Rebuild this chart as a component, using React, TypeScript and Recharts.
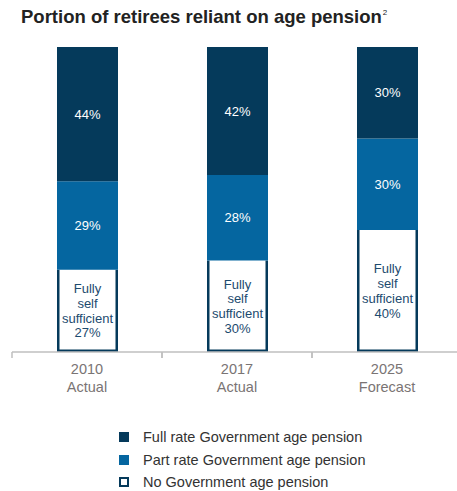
import React from 'react';
import { BarChart, Bar, XAxis, YAxis, LabelList } from 'recharts';

const categories = ['2010', '2017', '2025'];
const periodLabels = ['Actual', 'Actual', 'Forecast'];
const fullRate = [44, 42, 30];
const partRate = [29, 28, 30];
const selfSufficient = [27, 30, 40];
const seriesNames = [
  'Full rate Government age pension',
  'Part rate Government age pension',
  'No Government age pension',
];

const NAVY = '#053a5b';
const BLUE = '#0566a0';
const FONT = 'Liberation Sans, Arial, sans-serif';

const data = categories.map((c, i) => ({
  year: c,
  period: periodLabels[i],
  full: fullRate[i],
  part: partRate[i],
  self: selfSufficient[i],
}));

const BAND = 150;

const Tick = (props: any) => {
  const { x, y, payload, index } = props;
  const d = data[index] || data.find((e) => e.year === payload.value);
  const y0 = y - 8;
  return (
    <g>
      <line x1={x - BAND / 2} x2={x - BAND / 2} y1={y0} y2={y0 + 6} stroke="#bfbfbf" strokeWidth={1.5} />
      <line x1={x + BAND / 2} x2={x + BAND / 2} y1={y0} y2={y0 + 6} stroke="#bfbfbf" strokeWidth={1.5} />
      <text x={x} y={y0 + 17} textAnchor="middle" dominantBaseline="central" fill="#7a7474" fontSize={14.5} fontFamily={FONT}>
        {payload.value}
      </text>
      <text x={x} y={y0 + 35} textAnchor="middle" dominantBaseline="central" fill="#7a7474" fontSize={14.5} fontFamily={FONT}>
        {d ? d.period : ''}
      </text>
    </g>
  );
};

const OpenTopBar = (props: any) => {
  const { x, y, width, height } = props;
  const sw = 2.5;
  const l = x + sw / 2;
  const r = x + width - sw / 2;
  const b = y + height - sw / 2;
  return (
    <g>
      <rect x={x} y={y} width={width} height={height} fill="#ffffff" />
      <path d={`M${l},${y} L${l},${b} L${r},${b} L${r},${y}`} fill="none" stroke={NAVY} strokeWidth={sw} />
    </g>
  );
};

const pctLabel = (props: any) => {
  const { x, y, width, height, value } = props;
  return (
    <text x={x + width / 2} y={y + height / 2} textAnchor="middle" dominantBaseline="central" fill="#ffffff" fontSize={13} fontFamily={FONT}>
      {`${value}%`}
    </text>
  );
};

const selfLabel = (props: any) => {
  const { x, y, width, height, value } = props;
  const cx = x + width / 2;
  const cy = y + height / 2;
  const lines = ['Fully', 'self', 'sufficient', `${value}%`];
  const lh = 14.7;
  return (
    <g>
      {lines.map((l, i) => (
        <text key={i} x={cx} y={cy + (i - 1.5) * lh} textAnchor="middle" dominantBaseline="central" fill="#1c4a6e" fontSize={13} fontFamily={FONT}>
          {l}
        </text>
      ))}
    </g>
  );
};

export default function App() {
  return (
    <div style={{ position: 'absolute', left: 0, top: 0, width: 457, height: 491, overflow: 'hidden', background: '#fff' }}>
      <div style={{ position: 'absolute', left: 21, top: 6, fontFamily: FONT, fontWeight: 'bold', fontSize: 18.5, color: '#222', whiteSpace: 'nowrap' }}>
        Portion of retirees reliant on age pension
        <sup style={{ fontSize: 8, fontWeight: 'normal', verticalAlign: 'top', position: 'relative', top: 2, marginLeft: 1 }}>2</sup>
      </div>
      <BarChart
        width={470}
        height={491}
        data={data}
        margin={{ top: 47, right: 8, left: 12, bottom: 0 }}
        barCategoryGap={0}
        style={{ position: 'absolute', left: 0, top: 0 }}
      >
        <YAxis hide domain={[0, 100]} />
        <XAxis
          dataKey="year"
          height={139}
          axisLine={{ stroke: '#bfbfbf', strokeWidth: 1.5 }}
          tickLine={false}
          tick={<Tick />}
          interval={0}
        />
        <Bar dataKey="self" stackId="a" fill="#ffffff" shape={<OpenTopBar />} barSize={61} isAnimationActive={false}>
          <LabelList dataKey="self" content={selfLabel} />
        </Bar>
        <Bar dataKey="part" stackId="a" fill={BLUE} barSize={61} isAnimationActive={false}>
          <LabelList dataKey="part" content={pctLabel} />
        </Bar>
        <Bar dataKey="full" stackId="a" fill={NAVY} barSize={61} isAnimationActive={false}>
          <LabelList dataKey="full" content={pctLabel} />
        </Bar>
      </BarChart>
      <div style={{ position: 'absolute', left: 118, top: 426, fontFamily: FONT, fontSize: 14.5, color: '#333' }}>
        {seriesNames.map((n, i) => (
          <div key={n} style={{ display: 'flex', alignItems: 'center', height: 22.5 }}>
            <span
              style={{
                display: 'inline-block',
                boxSizing: 'border-box',
                width: 10,
                height: 10,
                marginLeft: 1,
                marginRight: 14,
                background: i === 0 ? NAVY : i === 1 ? BLUE : '#fff',
                border: i === 2 ? `2.5px solid ${NAVY}` : 'none',
              }}
            />
            <span>{n}</span>
          </div>
        ))}
      </div>
    </div>
  );
}
